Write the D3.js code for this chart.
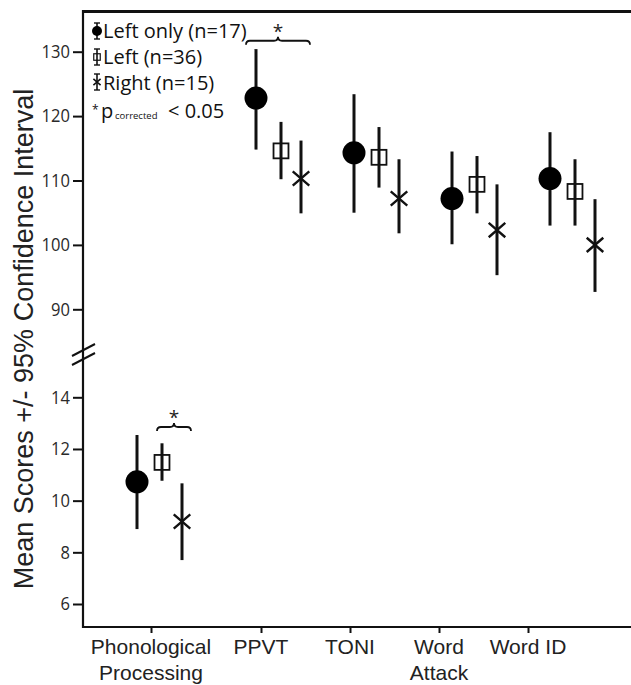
<!DOCTYPE html>
<html>
<head>
<meta charset="utf-8">
<script src="https://cdn.jsdelivr.net/npm/d3@7"></script>
<style>
  html, body { margin: 0; padding: 0; background: #fff; }
  svg { display: block; }
</style>
</head>
<body>
<svg id="chart" width="631" height="685"></svg>
<script>
// ---------------- DATA ----------------
const categories = ["Phonological Processing", "PPVT", "TONI", "Word Attack", "Word ID"];
const categoryLines = [["Phonological", "Processing"], ["PPVT"], ["TONI"], ["Word", "Attack"], ["Word ID"]];
const seriesNames = ["Left only (n=17)", "Left (n=36)", "Right (n=15)"];

const leftOnlyMean = [10.73, 122.8, 114.3, 107.2, 110.3];
const leftOnlyLow  = [8.9, 114.8, 105.0, 100.1, 103.0];
const leftOnlyHigh = [12.54, 130.4, 123.4, 114.5, 117.5];

const leftMean = [11.48, 114.6, 113.6, 109.4, 108.3];
const leftLow  = [10.77, 110.2, 108.9, 104.9, 103.0];
const leftHigh = [12.22, 119.1, 118.3, 113.8, 113.3];

const rightMean = [9.19, 110.3, 107.2, 102.3, 100.0];
const rightLow  = [7.70, 104.9, 101.8, 95.3, 92.7];
const rightHigh = [10.67, 116.2, 113.3, 109.4, 107.1];

const upperTicks = [90, 100, 110, 120, 130];
const lowerTicks = [6, 8, 10, 12, 14];

// significance brackets: category index, series from, series to, value
const sigCategory = [1, 0];
const sigFrom = [0, 1];
const sigTo = [2, 2];
const sigValue = [131.7, 12.85];

// ---------------- LAYOUT ----------------
const svg = d3.select("#chart");
const axisX = 83, topY = 11.5, bottomY = 627, rightX = 631;

const yUpper = d3.scaleLinear().domain([90, 130]).range([309.3, 51.7]);
const yLower = d3.scaleLinear().domain([6, 14]).range([604, 397.3]);
const yFor = i => (i === 0 ? yLower : yUpper);

// group centre (square) positions and tick positions
const xGroup = d3.scaleLinear().domain([0, 1, 4]).range([162, 281, 575]);
const xTick = d3.scaleLinear().domain([0, 1, 4]).range([151, 261, 528]);
const seriesOffset = d3.scaleOrdinal().domain([0, 1, 2]).range([-25, 0, 20]);

const series = [
  { name: seriesNames[0], mean: leftOnlyMean, low: leftOnlyLow, high: leftOnlyHigh, shape: "circle" },
  { name: seriesNames[1], mean: leftMean, low: leftLow, high: leftHigh, shape: "square" },
  { name: seriesNames[2], mean: rightMean, low: rightLow, high: rightHigh, shape: "cross" }
];

// ---------------- AXES ----------------
const axisFont = "'Open Sans', sans-serif";
const sx = 0.92;
function styleAxis(g) {
  g.select(".domain").remove();
  g.selectAll(".tick line").attr("stroke", "#111").attr("stroke-width", 2);
  g.selectAll(".tick text").attr("fill", "#2a2a2a")
    .style("font-family", axisFont).style("font-size", "18px")
    .attr("x", -13 / sx)
    .attr("transform", `scale(${sx},1)`);
}
svg.append("g").attr("transform", `translate(${axisX},0)`)
  .call(d3.axisLeft(yUpper).tickValues(upperTicks).tickSize(10).tickPadding(3))
  .call(styleAxis);
svg.append("g").attr("transform", `translate(${axisX},0)`)
  .call(d3.axisLeft(yLower).tickValues(lowerTicks).tickSize(10).tickPadding(3))
  .call(styleAxis);

// left axis line, top border, bottom axis line
svg.append("line").attr("x1", axisX).attr("x2", axisX).attr("y1", topY - 1.5).attr("y2", bottomY + 1)
  .attr("stroke", "#111").attr("stroke-width", 2.2);
svg.append("line").attr("x1", axisX - 1).attr("x2", rightX).attr("y1", topY).attr("y2", topY)
  .attr("stroke", "#111").attr("stroke-width", 3);

// axis break marks
[0, 9].forEach(dy => {
  svg.append("line").attr("x1", axisX - 11).attr("y1", 356 + dy).attr("x2", axisX + 12).attr("y2", 344 + dy)
    .attr("stroke", "#111").attr("stroke-width", 2);
});

// bottom axis
const bx = svg.append("g").attr("transform", `translate(0,${bottomY})`)
  .call(d3.axisBottom(xTick).tickValues(d3.range(categories.length)).tickSize(6).tickFormat(""));
bx.select(".domain").remove();
bx.selectAll(".tick line").attr("stroke", "#111").attr("stroke-width", 2);
svg.append("line").attr("x1", axisX - 1).attr("x2", rightX).attr("y1", bottomY).attr("y2", bottomY)
  .attr("stroke", "#111").attr("stroke-width", 2.2);

// category labels
categories.forEach((c, i) => {
  const t = svg.append("text")
    .attr("x", xTick(i)).attr("y", 654)
    .attr("text-anchor", "middle")
    .style("font-family", "'Liberation Sans', Arial, sans-serif")
    .style("font-size", "21px").attr("fill", "#222");
  categoryLines[i].forEach((line, j) => {
    t.append("tspan").attr("x", xTick(i)).attr("dy", j === 0 ? 0 : 26).text(line);
  });
});

// y axis title
svg.append("text")
  .attr("transform", "translate(33,339) rotate(-90)")
  .attr("text-anchor", "middle")
  .style("font-family", "'Liberation Sans', Arial, sans-serif")
  .style("font-size", "27px").attr("fill", "#222")
  .text("Mean Scores +/- 95% Confidence Interval");

// ---------------- MARKS ----------------
function drawMarker(g, shape, cx, cy, size) {
  if (shape === "circle") {
    g.append("circle").attr("cx", cx).attr("cy", cy).attr("r", size).attr("fill", "#000");
  } else if (shape === "square") {
    const s = size * 1.3;
    g.append("rect").attr("x", cx - s / 2).attr("y", cy - s / 2).attr("width", s).attr("height", s)
      .attr("fill", "none").attr("stroke", "#111").attr("stroke-width", size > 6 ? 1.8 : 1.2);
  } else {
    const a = size * 0.72, b = size * 0.62;
    g.append("path").attr("d", `M${cx - a},${cy - b}L${cx + a},${cy + b}M${cx - a},${cy + b}L${cx + a},${cy - b}`)
      .attr("stroke", "#111").attr("stroke-width", size > 6 ? 2.4 : 1.6).attr("fill", "none");
  }
}

const marks = svg.append("g");
series.forEach((s, si) => {
  categories.forEach((c, ci) => {
    const y = yFor(ci);
    const cx = xGroup(ci) + seriesOffset(si);
    marks.append("line").attr("x1", cx).attr("x2", cx)
      .attr("y1", y(s.low[ci])).attr("y2", y(s.high[ci]))
      .attr("stroke", "#111").attr("stroke-width", 3);
    drawMarker(marks, s.shape, cx, y(s.mean[ci]), 11.5);
  });
});

// ---------------- SIGNIFICANCE BRACES ----------------
function brace(x0, x1, y) {
  const p = d3.path();
  const xm = (x0 + x1) / 2, h = 4;
  p.moveTo(x0, y + h);
  p.quadraticCurveTo(x0, y, x0 + h, y);
  p.lineTo(xm - h, y);
  p.quadraticCurveTo(xm, y, xm, y - h);
  p.quadraticCurveTo(xm, y, xm + h, y);
  p.lineTo(x1 - h, y);
  p.quadraticCurveTo(x1, y, x1, y + h);
  return p.toString();
}
sigCategory.forEach((ci, k) => {
  const y = yFor(ci)(sigValue[k]);
  const x0 = xGroup(ci) + seriesOffset(sigFrom[k]) - (sigFrom[k] === 0 ? 10 : 5);
  const x1 = xGroup(ci) + seriesOffset(sigTo[k]) + 9;
  svg.append("path").attr("d", brace(x0, x1, y)).attr("fill", "none")
    .attr("stroke", "#111").attr("stroke-width", 1.8);
  svg.append("text").attr("x", (x0 + x1) / 2).attr("y", y - 3)
    .attr("text-anchor", "middle")
    .style("font-family", axisFont).style("font-size", "19px").attr("fill", "#222")
    .text("*");
});

// ---------------- LEGEND ----------------
const legend = svg.append("g");
const legendY = [31, 57, 82];
const legendBase = [38, 64, 90];
series.forEach((s, si) => {
  const cx = 97, cy = legendY[si];
  legend.append("line").attr("x1", cx).attr("x2", cx).attr("y1", cy - 8).attr("y2", cy + 8)
    .attr("stroke", "#111").attr("stroke-width", 1.6);
  [cy - 8, cy + 8].forEach(yy => legend.append("line").attr("x1", cx - 3).attr("x2", cx + 3)
    .attr("y1", yy).attr("y2", yy).attr("stroke", "#111").attr("stroke-width", 1.4));
  drawMarker(legend, s.shape, cx, cy, 5);
  legend.append("text").attr("x", 103).attr("y", legendBase[si])
    .style("font-family", axisFont).style("font-size", "20px").attr("fill", "#111")
    .text(s.name);
});
// p corrected note
legend.append("text").attr("x", 92).attr("y", 114)
  .style("font-family", axisFont).style("font-size", "12px").attr("fill", "#111").text("*");
legend.append("text").attr("x", 101).attr("y", 118)
  .style("font-family", axisFont).style("font-size", "20px").attr("fill", "#111").text("p");
legend.append("text").attr("x", 115).attr("y", 119)
  .style("font-family", axisFont).style("font-size", "9.5px").attr("fill", "#111").text("corrected");
legend.append("text").attr("x", 168).attr("y", 118)
  .style("font-family", axisFont).style("font-size", "20px").attr("fill", "#111").text("< 0.05");
</script>
</body>
</html>
